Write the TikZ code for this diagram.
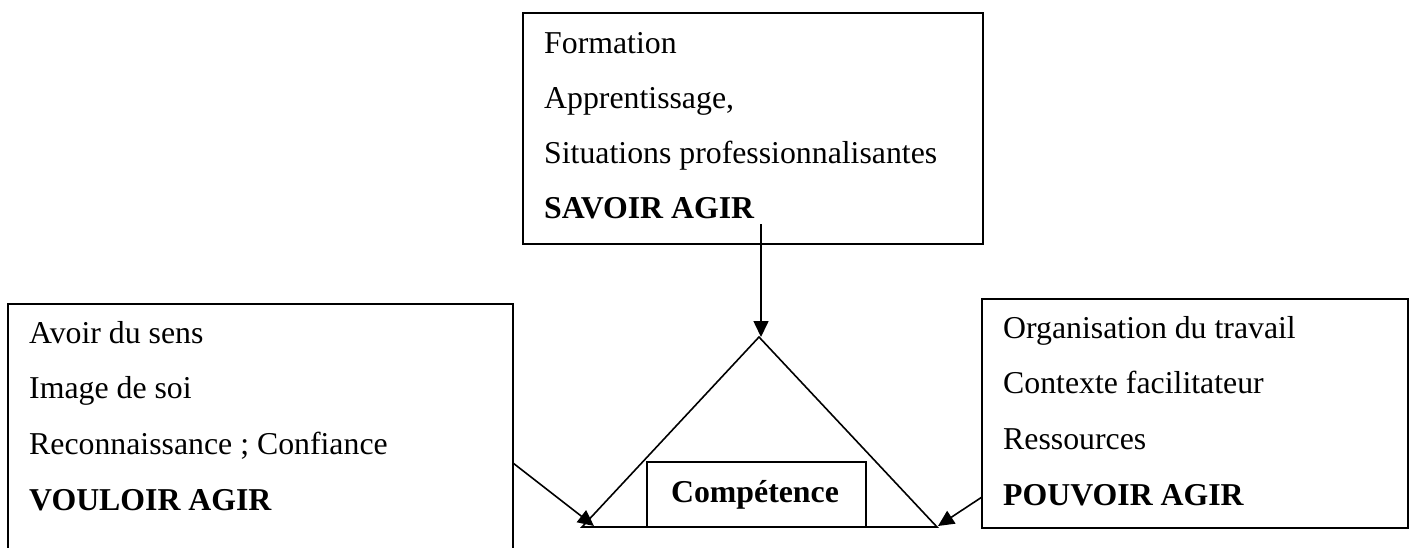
\documentclass[tikz,border=0pt]{standalone}
\usepackage{fontspec}
\setmainfont{Liberation Serif}
\usetikzlibrary{arrows.meta}
\begin{document}
\begin{tikzpicture}[x=1pt,y=-1pt,
  box/.style={draw, line width=1.8pt, inner sep=0pt, outer sep=0pt},
  txt/.style={anchor=base west, inner sep=0pt, font=\fontsize{31.8}{38}\selectfont},
  btxt/.style={anchor=base west, inner sep=0pt, font=\fontsize{31.8}{38}\selectfont\bfseries},
  conn/.style={line width=1.6pt},
  arr/.style={conn, -{Triangle[length=16pt,width=15pt]}}]
\useasboundingbox (0,0) rectangle (1415,547);
\clip (0,0) rectangle (1415,547);
% boxes
\node[box, minimum width=460pt, minimum height=231pt] (savoir) at (753,128.5) {};
\node[box, minimum width=505pt, minimum height=336pt] (vouloir) at (260.5,472) {};
\node[box, minimum width=426pt, minimum height=229pt] (pouvoir) at (1195,413.5) {};
% triangle
\coordinate (apex) at (759,337);
\coordinate (bl) at (582,527);
\coordinate (br) at (937,527);
\node[box, fill=white, minimum width=219pt, minimum height=65pt] (comp) at (756.5,494.5) {};
\draw[conn] (apex) -- (br) -- (bl) -- cycle;
\node[anchor=base, inner sep=0pt, font=\fontsize{31.8}{38}\selectfont\bfseries] (comptxt) at (755,502) {Compétence};
% texts
\node[txt] (s1) at (544,53) {Formation};
\node[txt] (s2) at (544,108) {Apprentissage,};
\node[txt] (s3) at (544,163) {Situations professionnalisantes};
\node[btxt] (s4) at (544,218) {SAVOIR AGIR};
\node[txt] (v1) at (29,343) {Avoir du sens};
\node[txt] (v2) at (29,398) {Image de soi};
\node[txt] (v3) at (29,454) {Reconnaissance ; Confiance};
\node[btxt] (v4) at (29,510) {VOULOIR AGIR};
\node[txt] (p1) at (1003,338) {Organisation du travail};
\node[txt] (p2) at (1003,393) {Contexte facilitateur};
\node[txt] (p3) at (1003,449) {Ressources};
\node[btxt] (p4) at (1003,505) {POUVOIR AGIR};
% connectors
\coordinate (sstart) at (761,224);
\coordinate (stip) at (761,337);
\coordinate (vstart) at (513,463);
\coordinate (vtip) at (594,526);
\coordinate (pstart) at (982,497);
\coordinate (ptip) at (938,526);
\draw[arr] (sstart) -- (stip);
\draw[arr] (vstart) -- (vtip);
\draw[arr] (pstart) -- (ptip);
\end{tikzpicture}
\end{document}
